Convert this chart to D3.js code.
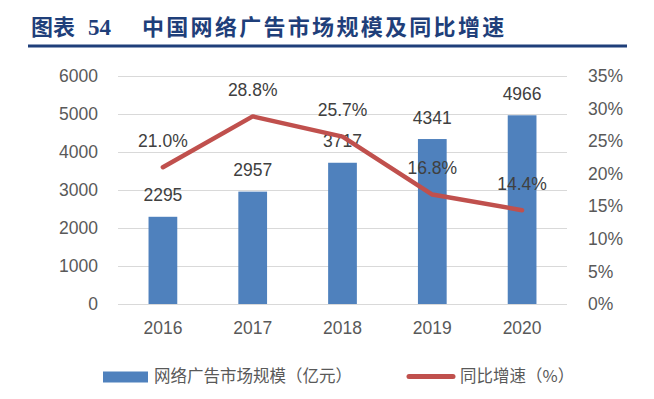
<!DOCTYPE html>
<html>
<head>
<meta charset="utf-8">
<script src="https://cdn.jsdelivr.net/npm/d3@7"></script>
<style>
  body { margin: 0; background: #fff; }
  svg text { font-family: "Liberation Sans", "Noto Sans CJK SC", sans-serif; }
</style>
</head>
<body>
<svg id="svg1" width="654" height="399"></svg>
<script>
var years = ["2016", "2017", "2018", "2019", "2020"];
var scale = [2295, 2957, 3717, 4341, 4966];
var growth = [21.0, 28.8, 25.7, 16.8, 14.4];
var leftTicks = [0, 1000, 2000, 3000, 4000, 5000, 6000];
var rightTicks = [0, 5, 10, 15, 20, 25, 30, 35];

var svg = d3.select("#svg1");
var plotLeft = 118, plotRight = 567, plotTop = 76, plotBottom = 304;

// title
svg.append("text")
    .attr("x", 31).attr("y", 35)
    .attr("fill", "#1F3F7A")
    .attr("font-size", 22)
    .attr("font-weight", "bold")
    .attr("style", "font-family:'Noto Sans CJK SC',sans-serif")
    .text("图表");
svg.append("text")
    .attr("x", 88).attr("y", 35)
    .attr("fill", "#1F3F7A")
    .attr("font-size", 23)
    .attr("font-weight", "bold")
    .attr("style", "font-family:'Liberation Serif',serif")
    .text("54");
svg.append("text")
    .attr("x", 142).attr("y", 35)
    .attr("fill", "#1F3F7A")
    .attr("font-size", 22)
    .attr("font-weight", "bold")
    .attr("letter-spacing", 2.3)
    .attr("style", "font-family:'Noto Sans CJK SC',sans-serif")
    .text("中国网络广告市场规模及同比增速");
svg.append("rect")
    .attr("x", 28).attr("y", 44.5)
    .attr("width", 599).attr("height", 3)
    .attr("fill", "#1F3F7A");

var x = d3.scaleBand().domain(years).range([plotLeft, plotRight]).paddingInner(0.68).paddingOuter(0.34);
var y = d3.scaleLinear().domain([0, 6000]).range([plotBottom, plotTop]);
var y2 = d3.scaleLinear().domain([0, 35]).range([plotBottom, plotTop]);

// grid
svg.append("g").selectAll("line")
    .data(leftTicks).join("line")
    .attr("x1", plotLeft).attr("x2", plotRight)
    .attr("y1", d => y(d) + 0.5).attr("y2", d => y(d) + 0.5)
    .attr("stroke", "#D9D9D9").attr("stroke-width", 1);

// left axis labels
var la = svg.append("g").attr("transform", `translate(${plotLeft - 20},0)`)
    .call(d3.axisLeft(y).tickValues(leftTicks).tickFormat(d3.format("d")).tickSize(0).tickPadding(0));
la.select(".domain").remove();
la.selectAll("text").attr("font-size", 17.5).attr("fill", "#595959")
    .attr("font-family", "Liberation Sans");

// right axis labels
var ra = svg.append("g").attr("transform", `translate(${plotRight + 21},0)`)
    .call(d3.axisRight(y2).tickValues(rightTicks).tickFormat(d => d + "%").tickSize(0).tickPadding(0));
ra.select(".domain").remove();
ra.selectAll("text").attr("font-size", 17.5).attr("fill", "#595959")
    .attr("font-family", "Liberation Sans");

// x axis labels
var xa = svg.append("g").attr("transform", `translate(0,${plotBottom + 18})`)
    .call(d3.axisBottom(x).tickSize(0).tickPadding(0));
xa.select(".domain").remove();
xa.selectAll("text").attr("font-size", 17.5).attr("fill", "#595959")
    .attr("font-family", "Liberation Sans");

// bars
svg.append("g").selectAll("rect")
    .data(years).join("rect")
    .attr("x", d => x(d))
    .attr("y", (d, i) => y(scale[i]))
    .attr("width", x.bandwidth())
    .attr("height", (d, i) => plotBottom - y(scale[i]))
    .attr("fill", "#4F81BD");

svg.append("g").selectAll("text")
    .data(years).join("text")
    .attr("x", d => x(d) + x.bandwidth() / 2)
    .attr("y", (d, i) => y(scale[i]) - 15.5)
    .attr("text-anchor", "middle")
    .attr("font-size", 17.5)
    .attr("fill", "#404040")
    .text((d, i) => scale[i]);

// line
var line = d3.line()
    .x((d, i) => x(years[i]) + x.bandwidth() / 2)
    .y(d => y2(d));
svg.append("path")
    .datum(growth)
    .attr("d", line)
    .attr("fill", "none")
    .attr("stroke", "#C0504D")
    .attr("stroke-width", 4.5)
    .attr("stroke-linejoin", "round")
    .attr("stroke-linecap", "round");

svg.append("g").selectAll("text")
    .data(growth).join("text")
    .attr("x", (d, i) => x(years[i]) + x.bandwidth() / 2)
    .attr("y", d => y2(d) - 20.5)
    .attr("text-anchor", "middle")
    .attr("font-size", 17.5)
    .attr("fill", "#404040")
    .text(d => d.toFixed(1) + "%");

// legend
var lg = svg.append("g");
lg.append("rect")
    .attr("x", 103).attr("y", 371.5)
    .attr("width", 45).attr("height", 11)
    .attr("fill", "#4F81BD");
lg.append("text")
    .attr("x", 154).attr("y", 382)
    .attr("font-size", 16.5)
    .attr("fill", "#595959")
    .attr("style", "font-family:'Noto Sans CJK SC',sans-serif")
    .text("网络广告市场规模（亿元）");
lg.append("line")
    .attr("x1", 409).attr("x2", 453)
    .attr("y1", 376.5).attr("y2", 376.5)
    .attr("stroke", "#C0504D")
    .attr("stroke-width", 5)
    .attr("stroke-linecap", "round");
lg.append("text")
    .attr("x", 460).attr("y", 382)
    .attr("font-size", 16.5)
    .attr("fill", "#595959")
    .attr("style", "font-family:'Noto Sans CJK SC',sans-serif")
    .text("同比增速（%）");
</script>
</body>
</html>
